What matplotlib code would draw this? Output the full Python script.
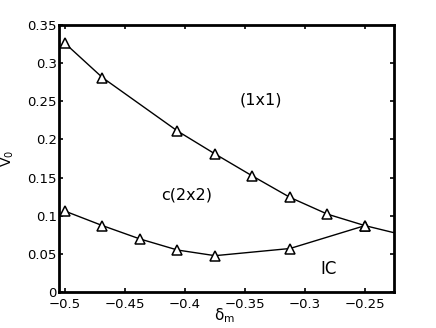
import matplotlib
matplotlib.use("Agg")
import matplotlib.pyplot as plt

# phase boundary data
upper_x = [-0.5, -0.46875, -0.40625, -0.375, -0.34375, -0.3125, -0.28125, -0.25]
upper_y = [0.326, 0.281, 0.211, 0.181, 0.152, 0.124, 0.102, 0.087]
upper_tail_x = [-0.25, -0.21875]
upper_tail_y = [0.087, 0.075]

lower_x = [-0.5, -0.46875, -0.4375, -0.40625, -0.375, -0.3125, -0.25]
lower_y = [0.106, 0.087, 0.0695, 0.055, 0.0476, 0.057, 0.087]

x_ticks = [-0.5, -0.45, -0.4, -0.35, -0.3, -0.25]
y_ticks = [0, 0.05, 0.1, 0.15, 0.2, 0.25, 0.3, 0.35]

region_labels = ["(1x1)", "c(2x2)", "IC"]
region_x = [-0.3367, -0.3986, -0.28]
region_y = [0.2516, 0.127, 0.030]
region_size = [11.5, 11.5, 12]

plt.rcParams['font.family'] = ['DejaVu Sans']
plt.rcParams['mathtext.fontset'] = 'dejavusans'

fig = plt.figure(figsize=(4.36, 3.28), dpi=100)
ax = fig.add_axes([0.1353, 0.1098, 0.7684, 0.814])

ax.plot(upper_x + upper_tail_x[1:], upper_y + upper_tail_y[1:], color='k', lw=1.0)
ax.plot(upper_x, upper_y, ls='none', marker='^', ms=7.5, mfc='white', mec='k', mew=1.1)
ax.plot(lower_x, lower_y, color='k', lw=1.0, marker='^', ms=7.5, mfc='white', mec='k', mew=1.1)

for lab, x, y, s in zip(region_labels, region_x, region_y, region_size):
    ax.text(x, y, lab, fontsize=s, ha='center', va='center')

ax.set_xlim(-0.505, -0.2258)
ax.set_ylim(0, 0.35)
ax.set_xticks(x_ticks)
ax.set_yticks(y_ticks)
ax.set_xticklabels([("%g" % v).replace('-', '\u2212') for v in x_ticks])
ax.set_yticklabels(["%g" % v for v in y_ticks])
ax.tick_params(direction='in', top=True, right=True, length=3, width=1.2, labelsize=9.5)
ax.tick_params(axis='y', pad=1.5)
ax.tick_params(axis='x', pad=4)

for sp in ax.spines.values():
    sp.set_linewidth(2.0)

# x label sits close under the tick labels, as in the original
ax.set_xlabel(r'$\mathrm{\delta_m}$', fontsize=11)
ax.xaxis.set_label_coords(0.495, -0.055)
ax.set_ylabel(r'$\mathrm{V_0}$', fontsize=10, va='center')
ax.yaxis.set_label_coords(-0.152, 0.5)

plt.savefig("out.png", dpi=100)
